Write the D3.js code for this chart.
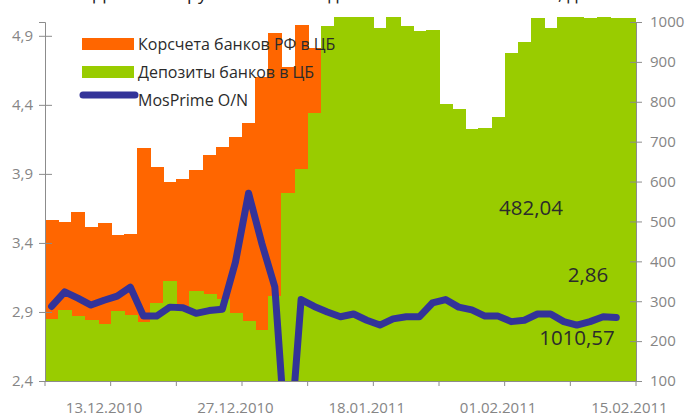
<!DOCTYPE html>
<html>
<head>
<meta charset="utf-8">
<script src="https://cdn.jsdelivr.net/npm/d3@7"></script>
<style>
  body { margin: 0; background: #fff; }
  text { font-family: "Open Sans", sans-serif; }
</style>
</head>
<body>
<svg id="chart"></svg>
<script>
// trading days, 07.12.2010 - 15.02.2011
var dates = [
    "07.12.2010", "08.12.2010", "09.12.2010", "10.12.2010", "13.12.2010",
    "14.12.2010", "15.12.2010", "16.12.2010", "17.12.2010", "20.12.2010",
    "21.12.2010", "22.12.2010", "23.12.2010", "24.12.2010", "27.12.2010",
    "28.12.2010", "29.12.2010", "30.12.2010", "31.12.2010", "11.01.2011",
    "12.01.2011", "13.01.2011", "14.01.2011", "17.01.2011", "18.01.2011",
    "19.01.2011", "20.01.2011", "21.01.2011", "24.01.2011", "25.01.2011",
    "26.01.2011", "27.01.2011", "28.01.2011", "31.01.2011", "01.02.2011",
    "02.02.2011", "03.02.2011", "04.02.2011", "07.02.2011", "08.02.2011",
    "09.02.2011", "10.02.2011", "11.02.2011", "14.02.2011", "15.02.2011"
];

// Корсчета банков РФ в ЦБ, млрд руб (right axis)
var korschet = [
    504, 499, 524, 486, 496, 466, 468, 684, 636, 599,
    606, 630, 667, 687, 712, 747, 862, 972, 887, 992,
    935, 560, 590, 610, 540, 520, 575, 600, 585, 550,
    530, 510, 545, 560, 530, 500, 520, 540, 495, 505,
    515, 490, 470, 500, 482.04
];

// Депозиты банков в ЦБ, млрд руб (right axis)
var deposits = [
    255, 278, 263, 253, 243, 275, 265, 248, 296, 351,
    285, 326, 318, 306, 270, 250, 228, 313, 571, 631,
    772, 990, 1012, 1012, 1012, 985, 1012, 990, 977, 980,
    794, 782, 732, 734, 762, 922, 950, 1010, 985, 1012,
    1012, 1011, 1012, 1011, 1010.57
];

// MosPrime O/N, % (left axis), no value yet for the last day
var mosprime = [
    2.94, 3.045, 3.0, 2.95, 2.985, 3.015, 3.08, 2.87, 2.87, 2.935,
    2.93, 2.89, 2.91, 2.92, 3.26, 3.76, 3.40, 3.08, 1.75, 2.99,
    2.94, 2.90, 2.865, 2.885, 2.84, 2.805, 2.85, 2.865, 2.865, 2.965,
    2.99, 2.935, 2.915, 2.87, 2.87, 2.83, 2.84, 2.885, 2.885, 2.83,
    2.805, 2.83, 2.865, 2.86
];

var leftTicks = [2.4, 2.9, 3.4, 3.9, 4.4, 4.9];
var rightTicks = [100, 200, 300, 400, 500, 600, 700, 800, 900, 1000];
var dateLabels = ["13.12.2010", "27.12.2010", "18.01.2011", "01.02.2011", "15.02.2011"];

var seriesNames = ["Корсчета банков РФ в ЦБ", "Депозиты банков в ЦБ", "MosPrime O/N"];
var lastLabels = ["482,04", "2,86", "1010,57"];

var W = 687, H = 417;
var margin = { top: 22, right: 51, bottom: 36, left: 45 },
    width = W - margin.left - margin.right,
    height = H - margin.top - margin.bottom;

var colOrange = "#ff6600", colGreen = "#99cc00", colLine = "#333399",
    axisGrey = "#8c8c8c", labelGrey = "#858585";

var svg = d3.select("#chart")
    .attr("width", W)
    .attr("height", H);

// title, cut off by the top edge as in the source image
svg.append("text")
    .attr("x", W / 2)
    .attr("y", 0)
    .attr("text-anchor", "middle")
    .style("font-size", "18px")
    .style("fill", "#222")
    .text("Динамика рублевой ликвидности и ставки MosPrime, дн.");

var g = svg.append("g")
    .attr("transform", "translate(" + margin.left + "," + margin.top + ")");

var x = d3.scaleBand().domain(dates).range([0, width]).padding(0);
var yL = d3.scaleLinear().domain([2.4, 5.0]).range([height, 0]);
var yR = d3.scaleLinear().domain([100, 1000]).range([height, 0]);

g.append("clipPath")
    .attr("id", "plotclip")
    .append("rect")
    .attr("x", -10)
    .attr("y", -30)
    .attr("width", width + 20)
    .attr("height", height + 30);

// bars: corr. accounts behind, deposits in front
g.selectAll(".bar-k")
    .data(korschet)
    .enter()
    .append("rect")
    .attr("class", "bar-k")
    .attr("x", function (d, i) { return x(dates[i]); })
    .attr("width", x.bandwidth() + 1)
    .attr("y", function (d) { return yR(d); })
    .attr("height", function (d) { return height - yR(d); })
    .attr("shape-rendering", "crispEdges")
    .style("fill", colOrange);

g.selectAll(".bar-d")
    .data(deposits)
    .enter()
    .append("rect")
    .attr("class", "bar-d")
    .attr("x", function (d, i) { return x(dates[i]); })
    .attr("width", function (d, i) { return i === dates.length - 1 ? x.bandwidth() : x.bandwidth() + 1; })
    .attr("y", function (d) { return yR(d); })
    .attr("height", function (d) { return height - yR(d); })
    .attr("shape-rendering", "crispEdges")
    .style("fill", colGreen);

var line = d3.line()
    .x(function (d, i) { return x(dates[i]) + x.bandwidth() / 2; })
    .y(function (d) { return yL(d); });

g.append("path")
    .datum(mosprime)
    .attr("clip-path", "url(#plotclip)")
    .attr("d", line)
    .style("fill", "none")
    .style("stroke", colLine)
    .style("stroke-width", 7)
    .style("stroke-linejoin", "round")
    .style("stroke-linecap", "round");

// axes
var fmtComma = function (d) { return d3.format(".1f")(d).replace(".", ","); };

var yAxisL = d3.axisLeft(yL).tickValues(leftTicks).tickFormat(fmtComma).tickSize(6).tickPadding(6);
var yAxisR = d3.axisRight(yR).tickValues(rightTicks).tickFormat(d3.format("d")).tickSize(6).tickPadding(8);

var gl = g.append("g").attr("class", "y axis").call(yAxisL);
var gr = g.append("g").attr("class", "y axis").attr("transform", "translate(" + width + ",0)").call(yAxisR);

gl.selectAll(".tick line").attr("x1", 7);
gr.selectAll(".tick line").attr("x1", -6);

// category axis: tick marks every 5 days, labels every 10
var xAxis = d3.axisBottom(x).tickValues(dateLabels).tickSize(0).tickPadding(21);
var gx = g.append("g").attr("class", "x axis").attr("transform", "translate(0," + height + ")").call(xAxis);

var tickPos = d3.range(0, dates.length + 1, 5).map(function (i) {
    return i < dates.length ? x(dates[i]) : width;
});
gx.selectAll(".xtick")
    .data(tickPos)
    .enter()
    .append("line")
    .attr("class", "xtick")
    .attr("x1", function (d) { return d; })
    .attr("x2", function (d) { return d; })
    .attr("y1", 0)
    .attr("y2", 5)
    .style("stroke", axisGrey);

svg.selectAll(".axis path, .axis line").style("stroke", axisGrey);
svg.selectAll(".axis text")
    .style("fill", labelGrey)
    .style("font-family", "'Open Sans', sans-serif")
    .style("font-size", "15px");

// last-value labels
var lastVals = [
    { text: lastLabels[0], x: 531, y: 215 },
    { text: lastLabels[1], x: 588, y: 282 },
    { text: lastLabels[2], x: 577, y: 345 }
];
svg.selectAll(".lastval")
    .data(lastVals)
    .enter()
    .append("text")
    .attr("class", "lastval")
    .attr("x", function (d) { return d.x; })
    .attr("y", function (d) { return d.y; })
    .attr("text-anchor", "middle")
    .style("font-size", "20.5px")
    .style("fill", "#2b2b2b")
    .text(function (d) { return d.text; });

// legend
var legend = svg.append("g").attr("transform", "translate(82,38)");
var rowH = 28;
seriesNames.forEach(function (name, i) {
    var row = legend.append("g").attr("transform", "translate(0," + i * rowH + ")");
    if (i < 2) {
        row.append("rect")
            .attr("width", 52)
            .attr("height", 12)
            .style("fill", i === 0 ? colOrange : colGreen);
    } else {
        row.append("line")
            .attr("x1", 1).attr("x2", 53)
            .attr("y1", 1).attr("y2", 1)
            .style("stroke", colLine)
            .style("stroke-width", 7)
            .style("stroke-linecap", "round");
    }
    row.append("text")
        .attr("x", 56)
        .attr("y", 12)
        .style("font-size", "16px")
        .style("fill", "#2b2b2b")
        .text(name);
});
</script>
</body>
</html>
